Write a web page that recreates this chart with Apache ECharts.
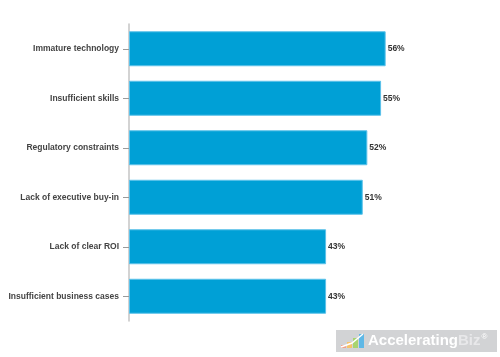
<!DOCTYPE html>
<html><head><meta charset="utf-8">
<script src="https://cdn.jsdelivr.net/npm/echarts@6/dist/echarts.min.js"></script>
<style>html,body{margin:0;padding:0;background:#fff}#c{width:500px;height:357px}</style>
</head><body><div id="c"></div>
<script>
const categories = ["Immature technology","Insufficient skills","Regulatory constraints","Lack of executive buy-in","Lack of clear ROI","Insufficient business cases"];
const values = [56,55,52,51,43,43];

const chart = echarts.init(document.getElementById('c'), null, {renderer:'canvas'});
chart.setOption({
  animation:false,
  grid:{left:129, top:24, width:275, bottom:36, containLabel:false},
  xAxis:{type:'value', min:0, max:60, show:false},
  yAxis:{type:'category', data:categories, inverse:true,
    axisLine:{show:true, lineStyle:{color:'#c4c4c4', width:1.5}},
    axisTick:{show:true, alignWithLabel:true, length:6, lineStyle:{color:'#9a9a9a'}},
    axisLabel:{color:'#444', fontSize:8.5, fontWeight:'bold', fontFamily:'Liberation Sans, Arial, sans-serif', margin:10}
  },
  series:[{type:'bar', data:values, barWidth:35,
    itemStyle:{color:'#00a0d6', borderColor:'#5cc2ea', borderWidth:1},
    label:{show:true, position:'right', distance:2, formatter:'{c}%', color:'#333', fontSize:8.5, fontWeight:'bold', fontFamily:'Liberation Sans, Arial, sans-serif'}
  }],
  graphic:[{type:'group', left:336, top:330, children:[
    {type:'rect', shape:{x:0,y:0,width:161,height:22}, style:{fill:'#d2d3d5'}},
    {type:'rect', shape:{x:5,y:15,width:5,height:3}, style:{fill:'#f2a08a'}},
    {type:'rect', shape:{x:11,y:12,width:5,height:6}, style:{fill:'#f6c36a'}},
    {type:'rect', shape:{x:17,y:8,width:5,height:10}, style:{fill:'#a8d46f'}},
    {type:'rect', shape:{x:23,y:4,width:5,height:14}, style:{fill:'#5fb8e6'}},
    {type:'polyline', shape:{points:[[5,17],[16,13],[27,4]]}, style:{stroke:'#fff', lineWidth:1.5, fill:null}},
    {type:'text', x:32, y:11, style:{text:'{a|Accelerating}{b|Biz}{c|®}', verticalAlign:'middle',
      rich:{a:{fontSize:15, fontWeight:'bold', fill:'#ffffff', fontFamily:'Liberation Sans, Arial, sans-serif'},
            b:{fontSize:15, fontWeight:'bold', fill:'#e8e8ea', fontFamily:'Liberation Sans, Arial, sans-serif'},
            c:{fontSize:8, fill:'#ffffff', verticalAlign:'top', padding:[0,0,8,1]}}}}
  ]}]
});
</script></body></html>
